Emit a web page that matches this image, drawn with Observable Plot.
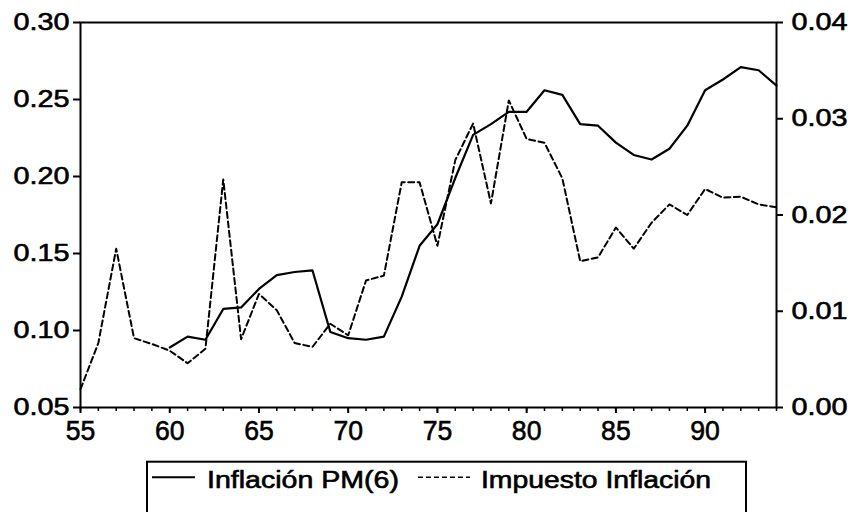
<!DOCTYPE html>
<html><head><meta charset="utf-8">
<script src="https://cdn.jsdelivr.net/npm/d3@7"></script>
<script src="https://cdn.jsdelivr.net/npm/@observablehq/plot@0.6"></script>
<style>
body{margin:0;background:#fff;width:852px;height:512px;overflow:hidden;position:relative;font-family:"Liberation Sans",Arial,sans-serif;}
#chart{position:absolute;left:0;top:0;}
#legend{position:absolute;left:0;top:445px;}
</style></head><body>
<div id="chart"></div>
<svg id="legend" width="852" height="67" font-family="Liberation Sans, Arial, sans-serif">
  <rect x="147" y="16.7" width="599" height="80" fill="none" stroke="#000" stroke-width="2"></rect>
  <line x1="152" x2="195" y1="32.3" y2="32.3" stroke="#000" stroke-width="2"></line>
  <text x="207" y="43.3" font-size="23" stroke="#000" stroke-width="0.6" textLength="192" lengthAdjust="spacingAndGlyphs">Inflación PM(6)</text>
  <line x1="418" x2="470" y1="32.3" y2="32.3" stroke="#000" stroke-width="1.5" stroke-dasharray="5,3"></line>
  <text x="481" y="43.3" font-size="23" stroke="#000" stroke-width="0.6" textLength="230" lengthAdjust="spacingAndGlyphs">Impuesto Inflación</text>
</svg>
<script>
// Years (two-digit) for each series
const impYears = [55,56,57,58,59,60,61,62,63,64,65,66,67,68,69,70,71,72,73,74,75,76,77,78,79,80,81,82,83,84,85,86,87,88,89,90,91,92,93,94];
const impuesto = [0.0019,0.0067,0.0165,0.0072,0.0066,0.0059,0.0046,0.0061,0.0237,0.0071,0.0118,0.0101,0.0067,0.0063,0.0087,0.0075,0.0132,0.0137,0.0234,0.0234,0.0168,0.0257,0.0295,0.0212,0.0319,0.0279,0.0275,0.0238,0.0152,0.0156,0.0187,0.0165,0.0192,0.0211,0.0200,0.0227,0.0218,0.0219,0.0211,0.0208];
const inflYears = [60,61,62,63,64,65,66,67,68,69,70,71,72,73,74,75,76,77,78,79,80,81,82,83,84,85,86,87,88,89,90,91,92,93,94];
const inflacion = [0.089,0.096,0.094,0.114,0.115,0.127,0.136,0.138,0.139,0.099,0.095,0.094,0.096,0.122,0.155,0.169,0.199,0.227,0.234,0.242,0.242,0.256,0.253,0.234,0.233,0.222,0.214,0.211,0.218,0.233,0.256,0.263,0.271,0.269,0.259];
const majorYears = [55,60,65,70,75,80,85,90];
const leftTicks = [0.05,0.10,0.15,0.20,0.25,0.30];
const rightTicks = [0.00,0.01,0.02,0.03,0.04];
const leftDomain = [0.05,0.30];
const rightDomain = [0.00,0.04];

// map right-axis values onto the left scale
const k = (leftDomain[1]-leftDomain[0])/(rightDomain[1]-rightDomain[0]);
const toLeft = v => leftDomain[0] + (v - rightDomain[0]) * k;
const fromLeft = v => rightDomain[0] + (v - leftDomain[0]) / k;

const inflData = inflYears.map((y,i)=>({year:y, value:inflacion[i]}));
const impData = impYears.map((y,i)=>({year:y, value:toLeft(impuesto[i])}));

const svg = Plot.plot({
  width: 852, height: 445,
  marginLeft: 80, marginRight: 76, marginTop: 22, marginBottom: 38,
  x: {domain: [55,94]},
  y: {domain: leftDomain},
  style: {fontFamily: "Liberation Sans, Arial, sans-serif", color: "#000", background: "#fff", overflow: "visible"},
  marks: [
    Plot.axisX(impYears, {anchor: "bottom", tickSize: 4, tickFormat: () => "", label: null, strokeWidth: 1.5}),
    Plot.axisX(majorYears, {anchor: "bottom", tickSize: 6, tickPadding: 7, fontSize: 28, label: null, strokeWidth: 2}),
    Plot.axisY(leftTicks, {anchor: "left", tickSize: 7, tickPadding: 4, tickFormat: d => d.toFixed(2), fontSize: 24, label: null, strokeWidth: 2}),
    Plot.axisY(rightTicks.map(toLeft), {anchor: "right", tickSize: 6, tickPadding: 9, tickFormat: d => Math.abs(fromLeft(d)).toFixed(2), fontSize: 24, label: null, strokeWidth: 2}),
    Plot.frame({stroke: "#000", strokeWidth: 2}),
    Plot.line(inflData, {x: "year", y: "value", stroke: "#000", strokeWidth: 2.2}),
    Plot.line(impData, {x: "year", y: "value", stroke: "#000", strokeWidth: 2, strokeDasharray: "6,3.5"})
  ]
});
document.getElementById("chart").append(svg);
svg.querySelectorAll("text").forEach(t => {
  const s = t.textContent;
  if (!s) return;
  const len = t.getComputedTextLength();
  const f = s.includes(".") ? 1.2 : 0.95;
  t.setAttribute("textLength", len * f);
  t.setAttribute("lengthAdjust", "spacingAndGlyphs");
  t.setAttribute("stroke", "#000");
  t.setAttribute("stroke-width", "0.6");
});
</script>
</body></html>
